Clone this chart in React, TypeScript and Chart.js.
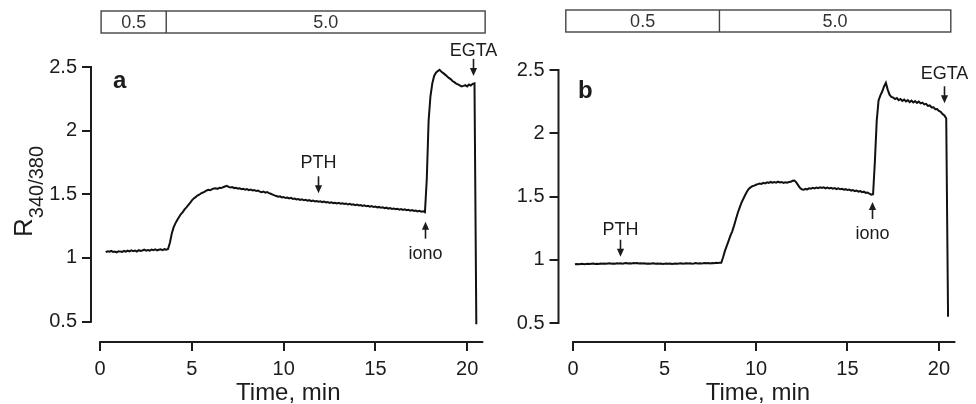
import React, { useEffect, useRef } from 'react';
import { Chart, registerables } from 'chart.js';

Chart.register(...registerables);

const FONT = '"Liberation Sans", Arial, Helvetica, sans-serif';
const INK = '#1c1c1c';

// ---------- shared axes ----------
const X_TICKS = [0, 5, 10, 15, 20];
const Y_TICKS = [0.5, 1, 1.5, 2, 2.5];
const X_TITLE = 'Time, min';
const Y_TITLE = 'R';
const Y_TITLE_SUB = '340/380';

// ---------- panel a ----------
const A_LETTER = 'a';
const A_T0 = 0.3; // min, first sample
const A_DT = 0.1; // min, sampling interval
const A_RATIO = [
  1.046, 1.052, 1.049, 1.055, 1.047, 1.051, 1.044, 1.053, 1.050, 1.048,
  1.055, 1.049, 1.057, 1.052, 1.060, 1.054, 1.058, 1.051, 1.061, 1.056,
  1.059, 1.065, 1.057, 1.062, 1.058, 1.066, 1.061, 1.067, 1.060, 1.064,
  1.068, 1.062, 1.069, 1.065, 1.070, 1.120, 1.190, 1.240, 1.272, 1.298,
  1.322, 1.345, 1.360, 1.382, 1.398, 1.415, 1.432, 1.452, 1.468, 1.478,
  1.490, 1.497, 1.508, 1.514, 1.521, 1.530, 1.536, 1.532, 1.541, 1.545,
  1.548, 1.543, 1.552, 1.549, 1.556, 1.561, 1.566, 1.558, 1.553, 1.557,
  1.549, 1.552, 1.545, 1.548, 1.540, 1.544, 1.537, 1.541, 1.533, 1.538,
  1.530, 1.534, 1.526, 1.530, 1.521, 1.516, 1.522, 1.513, 1.518, 1.509,
  1.504, 1.498, 1.492, 1.487, 1.481, 1.484, 1.476, 1.479, 1.471, 1.475,
  1.468, 1.472, 1.464, 1.467, 1.460, 1.463, 1.456, 1.460, 1.453, 1.457,
  1.450, 1.454, 1.447, 1.451, 1.444, 1.448, 1.442, 1.445, 1.439, 1.443,
  1.436, 1.440, 1.433, 1.438, 1.431, 1.434, 1.428, 1.433, 1.426, 1.430,
  1.424, 1.428, 1.420, 1.425, 1.418, 1.421, 1.415, 1.419, 1.412, 1.416,
  1.409, 1.413, 1.406, 1.410, 1.403, 1.407, 1.400, 1.404, 1.397, 1.401,
  1.394, 1.398, 1.391, 1.395, 1.388, 1.392, 1.385, 1.389, 1.383, 1.387,
  1.380, 1.384, 1.378, 1.382, 1.375, 1.379, 1.372, 1.376, 1.369, 1.373,
  1.366, 1.370, 1.363, 1.367, 1.360,
  1.620, 2.080, 2.270, 2.370, 2.430, 2.455, 2.468, 2.478, 2.462, 2.452,
  2.440, 2.428, 2.414, 2.405, 2.390, 2.381, 2.370, 2.364, 2.356, 2.348,
  2.352, 2.357, 2.347, 2.362, 2.354, 2.368, 2.372, 0.480,
];
const A_BAR_LABELS = ['0.5', '5.0'];
const A_BAR_EDGES = [0.05, 3.6, 20.98];
const A_NOTE_LABELS = ['PTH', 'iono', 'EGTA'];
const A_NOTE_TIMES = [11.88, 17.71, 20.34];
const A_NOTE_TIPS = [1.508, 1.285, 2.43];
const A_NOTE_DIRS = ['down', 'up', 'down'];

// ---------- panel b ----------
const B_LETTER = 'b';
const B_T0 = 0.1;
const B_DT = 0.1;
const B_RATIO = [
  0.965, 0.967, 0.964, 0.966, 0.968, 0.965, 0.967, 0.969, 0.966, 0.968,
  0.970, 0.967, 0.969, 0.966, 0.970, 0.968, 0.971, 0.968, 0.970, 0.972,
  0.969, 0.971, 0.968, 0.972, 0.970, 0.973, 0.969, 0.972, 0.975, 0.971,
  0.973, 0.970, 0.974, 0.972, 0.975, 0.971, 0.973, 0.970, 0.972, 0.969,
  0.971, 0.968, 0.970, 0.972, 0.969, 0.971, 0.968, 0.970, 0.967, 0.969,
  0.971, 0.968, 0.970, 0.967, 0.969, 0.971, 0.968, 0.970, 0.972, 0.969,
  0.971, 0.973, 0.970, 0.972, 0.969, 0.971, 0.974, 0.971, 0.973, 0.970,
  0.972, 0.975, 0.972, 0.974, 0.971, 0.975, 0.973, 0.976, 0.974, 0.977,
  0.976, 1.020, 1.070, 1.110, 1.150, 1.190, 1.225, 1.270, 1.320, 1.370,
  1.410, 1.450, 1.480, 1.510, 1.538, 1.560, 1.572, 1.581, 1.586, 1.593,
  1.598, 1.603, 1.600, 1.608, 1.604, 1.612, 1.607, 1.615, 1.609, 1.614,
  1.610, 1.617, 1.611, 1.615, 1.608, 1.613, 1.609, 1.614, 1.616, 1.624,
  1.626, 1.612, 1.590, 1.568, 1.557, 1.553, 1.560, 1.556, 1.565, 1.562,
  1.568, 1.564, 1.571, 1.566, 1.572, 1.567, 1.573, 1.565, 1.570, 1.564,
  1.569, 1.562, 1.567, 1.559, 1.564, 1.557, 1.561, 1.554, 1.558, 1.551,
  1.555, 1.547, 1.551, 1.543, 1.547, 1.539, 1.543, 1.534, 1.538, 1.529,
  1.532, 1.522, 1.514, 1.518, 1.780, 2.100, 2.260, 2.300, 2.330, 2.370,
  2.399, 2.345, 2.305, 2.288, 2.282, 2.270, 2.278, 2.262, 2.271, 2.256,
  2.266, 2.251, 2.262, 2.246, 2.258, 2.243, 2.254, 2.240, 2.250, 2.236,
  2.242, 2.228, 2.232, 2.216, 2.220, 2.204, 2.206, 2.190, 2.192, 2.176,
  2.170, 2.152, 2.140, 2.118, 0.550,
];
const B_BAR_LABELS = ['0.5', '5.0'];
const B_BAR_EDGES = [-0.4, 8.0, 20.65];
const B_NOTE_LABELS = ['PTH', 'iono', 'EGTA'];
const B_NOTE_TIMES = [2.55, 16.32, 20.28];
const B_NOTE_TIPS = [1.024, 1.457, 2.237];
const B_NOTE_DIRS = ['down', 'up', 'down'];

// ---------- layout / style per panel ----------
const PANELS = [
  {
    letter: A_LETTER, t0: A_T0, dt: A_DT, ratio: A_RATIO,
    barLabels: A_BAR_LABELS, barEdges: A_BAR_EDGES,
    noteLabels: A_NOTE_LABELS, noteTimes: A_NOTE_TIMES, noteTips: A_NOTE_TIPS, noteDirs: A_NOTE_DIRS,
    style: {
      canvasLeft: 0, canvasWidth: 520, yWidth: 91, padTop: 67, padRight: 34.5,
      xMin: -0.5, xMax: 21, yMin: 0.34, yMax: 2.5, axisEnd: 20.88,
      barTop: 11, barBottom: 33, letterX: 113, letterY: 88, yTitle: true,
      noteGaps: [8, 20, 3],
    },
  },
  {
    letter: B_LETTER, t0: B_T0, dt: B_DT, ratio: B_RATIO,
    barLabels: B_BAR_LABELS, barEdges: B_BAR_EDGES,
    noteLabels: B_NOTE_LABELS, noteTimes: B_NOTE_TIMES, noteTips: B_NOTE_TIPS, noteDirs: B_NOTE_DIRS,
    style: {
      canvasLeft: 488, canvasWidth: 488, yWidth: 70.5, padTop: 70, padRight: 18.8,
      xMin: -0.8, xMax: 21, yMin: 0.35, yMax: 2.5, axisEnd: 20.9,
      barTop: 10, barBottom: 32, letterX: 90, letterY: 98, yTitle: false,
      noteGaps: [5, 20, 7],
    },
  },
];

const ARROW_LEN = 17;
const HEAD_LEN = 8;
const HEAD_HALF = 3.6;

const decorPlugin = {
  id: 'decor',
  afterDraw(chart: any, _args: any, o: any) {
    const { ctx, chartArea } = chart;
    const xs = chart.scales.x;
    const ys = chart.scales.y;
    const p = o.panel;
    const st = p.style;
    ctx.save();
    ctx.strokeStyle = INK;
    ctx.fillStyle = INK;
    ctx.lineWidth = 2;

    // detached y axis line
    const yx = chartArea.left;
    ctx.beginPath();
    ctx.moveTo(yx, ys.getPixelForValue(Y_TICKS[0]) + 1);
    ctx.lineTo(yx, ys.getPixelForValue(Y_TICKS[Y_TICKS.length - 1]) - 1);
    ctx.stroke();

    // detached x axis line
    const xy = chartArea.bottom;
    ctx.beginPath();
    ctx.moveTo(xs.getPixelForValue(X_TICKS[0]) - 1, xy);
    ctx.lineTo(xs.getPixelForValue(st.axisEnd), xy);
    ctx.stroke();

    // solution bar on top
    ctx.strokeStyle = '#444';
    ctx.lineWidth = 1.4;
    const e = p.barEdges;
    const bx0 = xs.getPixelForValue(e[0]);
    const bx1 = xs.getPixelForValue(e[e.length - 1]);
    ctx.strokeRect(bx0, st.barTop, bx1 - bx0, st.barBottom - st.barTop);
    ctx.font = `18px ${FONT}`;
    ctx.textAlign = 'center';
    ctx.textBaseline = 'middle';
    for (let i = 0; i < p.barLabels.length; i++) {
      const a = xs.getPixelForValue(e[i]);
      const b = xs.getPixelForValue(e[i + 1]);
      if (i > 0) {
        ctx.beginPath();
        ctx.moveTo(a, st.barTop);
        ctx.lineTo(a, st.barBottom);
        ctx.stroke();
      }
      ctx.fillStyle = '#333';
      ctx.fillText(p.barLabels[i], (a + b) / 2, (st.barTop + st.barBottom) / 2 + 1);
    }

    // annotations (arrows + labels)
    ctx.fillStyle = INK;
    ctx.strokeStyle = INK;
    ctx.lineWidth = 1.6;
    ctx.font = `18px ${FONT}`;
    ctx.textAlign = 'center';
    ctx.textBaseline = 'alphabetic';
    for (let i = 0; i < p.noteLabels.length; i++) {
      const ax = Math.round(xs.getPixelForValue(p.noteTimes[i])) + 0.5;
      const tip = ys.getPixelForValue(p.noteTips[i]);
      const down = p.noteDirs[i] === 'down';
      const sgn = down ? -1 : 1; // direction from tip to tail
      const tail = tip + sgn * ARROW_LEN;
      ctx.beginPath();
      ctx.moveTo(ax, tail);
      ctx.lineTo(ax, tip + sgn * HEAD_LEN * 0.6);
      ctx.stroke();
      ctx.beginPath();
      ctx.moveTo(ax, tip);
      ctx.lineTo(ax - HEAD_HALF, tip + sgn * HEAD_LEN);
      ctx.lineTo(ax + HEAD_HALF, tip + sgn * HEAD_LEN);
      ctx.closePath();
      ctx.fill();
      const ty = down ? tail - st.noteGaps[i] : tail + st.noteGaps[i];
      ctx.fillText(p.noteLabels[i], ax, ty);
    }

    // panel letter
    ctx.font = `bold 24px ${FONT}`;
    ctx.textAlign = 'left';
    ctx.textBaseline = 'alphabetic';
    ctx.fillText(p.letter, st.letterX, st.letterY);

    // y title with subscript
    if (st.yTitle) {
      ctx.save();
      ctx.translate(0, 237);
      ctx.rotate(-Math.PI / 2);
      ctx.textAlign = 'left';
      ctx.font = `26px ${FONT}`;
      ctx.fillText(Y_TITLE, 0, 32);
      const w = ctx.measureText(Y_TITLE).width;
      ctx.font = `20px ${FONT}`;
      ctx.fillText(Y_TITLE_SUB, w, 43);
      ctx.restore();
    }
    ctx.restore();
  },
};

function buildChart(canvas: HTMLCanvasElement, p: any) {
  const st = p.style;
  const pts = p.ratio.map((v: number, i: number) => ({ x: p.t0 + i * p.dt, y: v }));
  return new Chart(canvas, {
    type: 'line',
    data: {
      datasets: [
        {
          data: pts,
          borderColor: '#111',
          borderWidth: 2,
          pointRadius: 0,
          tension: 0,
          fill: false,
        },
      ],
    },
    plugins: [decorPlugin],
    options: {
      animation: false,
      responsive: false,
      maintainAspectRatio: false,
      parsing: false,
      normalized: true,
      events: [],
      layout: { padding: { left: 0, top: st.padTop, right: st.padRight, bottom: 0 } },
      plugins: {
        legend: { display: false },
        tooltip: { enabled: false },
        decor: { panel: p },
      } as any,
      scales: {
        x: {
          type: 'linear',
          min: st.xMin,
          max: st.xMax,
          afterBuildTicks: (s: any) => {
            s.ticks = X_TICKS.map((v) => ({ value: v }));
          },
          afterFit: (s: any) => {
            s.height = 62;
          },
          border: { display: false },
          grid: {
            drawOnChartArea: false,
            drawTicks: true,
            tickLength: 9,
            lineWidth: 2,
            color: INK,
          },
          ticks: {
            padding: 6,
            color: INK,
            maxRotation: 0,
            font: { family: FONT, size: 20 },
            callback: (v: any) => String(v),
          },
          title: {
            display: true,
            text: X_TITLE,
            color: INK,
            padding: { top: 0, bottom: -1 },
            font: { family: FONT, size: 24, lineHeight: 1 },
          },
        },
        y: {
          type: 'linear',
          position: 'left',
          min: st.yMin,
          max: st.yMax,
          afterBuildTicks: (s: any) => {
            s.ticks = Y_TICKS.map((v) => ({ value: v }));
          },
          afterFit: (s: any) => {
            s.width = st.yWidth;
          },
          border: { display: false },
          grid: {
            drawOnChartArea: false,
            drawTicks: true,
            tickLength: 9,
            lineWidth: 2,
            color: INK,
          },
          ticks: {
            padding: 5,
            color: INK,
            font: { family: FONT, size: 20 },
            callback: (v: any) => String(v),
          },
        },
      },
    } as any,
  });
}

export default function App() {
  const refA = useRef<HTMLCanvasElement | null>(null);
  const refB = useRef<HTMLCanvasElement | null>(null);

  useEffect(() => {
    const charts: Chart[] = [];
    if (refA.current) charts.push(buildChart(refA.current, PANELS[0]));
    if (refB.current) charts.push(buildChart(refB.current, PANELS[1]));
    return () => charts.forEach((c) => c.destroy());
  }, []);

  return (
    <div
      style={{
        position: 'absolute',
        left: 0,
        top: 0,
        width: 976,
        height: 404,
        background: '#fff',
        overflow: 'hidden',
      }}
    >
      <canvas
        ref={refA}
        width={PANELS[0].style.canvasWidth}
        height={404}
        style={{ position: 'absolute', left: PANELS[0].style.canvasLeft, top: 0 }}
      />
      <canvas
        ref={refB}
        width={PANELS[1].style.canvasWidth}
        height={404}
        style={{ position: 'absolute', left: PANELS[1].style.canvasLeft, top: 0 }}
      />
    </div>
  );
}
